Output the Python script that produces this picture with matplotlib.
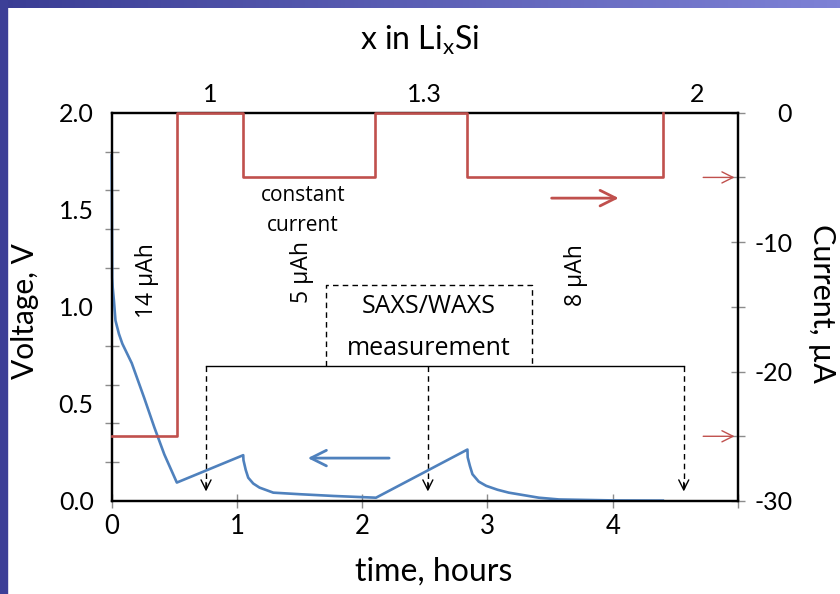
import numpy as np
import matplotlib.pyplot as plt
from matplotlib.ticker import MultipleLocator, FixedLocator, FormatStrFormatter
from matplotlib.colors import LinearSegmentedColormap
from matplotlib.patches import Rectangle

plt.rcParams['font.family'] = ['Lato', 'DejaVu Sans']

# voltage curve (left axis)
t_volt = [0, 0.004, 0.008, 0.018, 0.03, 0.058, 0.085, 0.16, 0.26, 0.34, 0.42, 0.52,
          1.05, 1.052, 1.07, 1.09, 1.13, 1.18, 1.29, 1.50, 1.77, 2.11,
          2.84, 2.842, 2.86, 2.88, 2.93, 2.99, 3.08, 3.17, 3.41, 3.57, 4.0, 4.40]
volt = [1.78, 1.15, 1.10, 1.03, 0.93, 0.86, 0.81, 0.71, 0.53, 0.38, 0.24, 0.095,
        0.236, 0.21, 0.16, 0.12, 0.09, 0.069, 0.043, 0.035, 0.026, 0.017,
        0.265, 0.225, 0.18, 0.138, 0.10, 0.078, 0.058, 0.043, 0.017, 0.008, 0.003, 0.002]

# current steps (right axis)
t_cur = [0, 0.525, 0.525, 1.045, 1.045, 2.10, 2.10, 2.835, 2.835, 4.405, 4.405]
cur = [-25, -25, 0, 0, -5, -5, 0, 0, -5, -5, 0]

# top axis: x in LixSi
x_top_t = [0.79, 2.50, 4.67]
x_top_labels = ['1', '1.3', '2']

# SAXS/WAXS measurement times
meas_t = [0.753, 2.524, 4.567]

blue = '#4F81BD'
red = '#C0504D'
tick_gray = '#8c8c8c'

W, H = 840, 594
fig = plt.figure(figsize=(W / 100, H / 100), dpi=100)

# slide border
left_px, right_px, top_px, bot_px = 111.7, 738, 112.7, 501
ax = fig.add_axes([left_px / W, 1 - bot_px / H, (right_px - left_px) / W, (bot_px - top_px) / H])
fig.patches.append(Rectangle((0, 0), 7 / W, 1, transform=fig.transFigure, color='#3c3f97', zorder=0))
bg = fig.add_axes([0, 1 - 8 / H, 1, 8 / H])
cm = LinearSegmentedColormap.from_list('slide', ['#3a3d94', '#7e82d6'])
bg.imshow(np.linspace(0, 1, 256)[None, :], aspect='auto', cmap=cm, extent=(0, 1, 0, 1))
bg.axis('off')

ax.plot(t_volt, volt, color=blue, lw=1.9, zorder=3, clip_on=False)
ax.set_xlim(0, 5)
ax.set_ylim(0, 2)

ax.xaxis.set_major_locator(FixedLocator([0, 1, 2, 3, 4, 5]))
ax.set_xticklabels(['0', '1', '2', '3', '4', ''])
ax.tick_params(axis='x', direction='inout', length=10, color=tick_gray, width=1,
               labelsize=18.5, pad=4)
ax.yaxis.set_major_locator(MultipleLocator(0.5))
ax.yaxis.set_minor_locator(MultipleLocator(0.2))
ax.yaxis.set_major_formatter(FormatStrFormatter('%.1f'))
ax.tick_params(axis='y', which='major', length=0, pad=13, labelsize=18)
ax.tick_params(axis='y', which='minor', direction='inout', length=10, color=tick_gray, width=1)

# annotations on voltage axis
ax.plot([meas_t[0], meas_t[-1]], [0.695, 0.695], color='k', lw=1)
ax.plot([1.711, 1.711, 3.355, 3.355], [0.695, 1.1125, 1.1125, 0.695],
        color='k', lw=1, dashes=(4, 3))
for t in meas_t:
    ax.plot([t, t], [0.695, 0.05], color='k', lw=1, dashes=(4, 3))
    ax.annotate('', xy=(t, 0.035), xytext=(t, 0.11),
                arrowprops=dict(arrowstyle='->', lw=1, color='k', mutation_scale=18))
ax.text(2.53, 1.0, 'SAXS/WAXS', ha='center', va='center', fontsize=18, family='Open Sans')
ax.text(2.53, 0.785, 'measurement', ha='center', va='center', fontsize=18, family='Open Sans')
ax.text(1.527, 1.576, 'constant', ha='center', va='center', fontsize=15, family='Open Sans')
ax.text(1.527, 1.42, 'current', ha='center', va='center', fontsize=15, family='Open Sans')
ax.text(0.28, 1.133, '14 µAh', rotation=90, ha='center', va='center', fontsize=16.5, family='Open Sans')
ax.text(1.52, 1.18, '5 µAh', rotation=90, ha='center', va='center', fontsize=16.5, family='Open Sans')
ax.text(3.71, 1.164, '8 µAh', rotation=90, ha='center', va='center', fontsize=16.5, family='Open Sans')

ax.annotate('', xy=(1.543, 0.221), xytext=(2.237, 0.221),
            arrowprops=dict(arrowstyle='->', color=blue, lw=2, mutation_scale=28))
ax.annotate('', xy=(4.07, 1.56), xytext=(3.49, 1.56),
            arrowprops=dict(arrowstyle='->', color=red, lw=2, mutation_scale=28))

# current axis
ax2 = ax.twinx()
ax2.plot(t_cur, cur, color=red, lw=1.9, zorder=3, clip_on=False)
ax2.set_ylim(-30, 0)
ax2.set_yticks([0, -10, -20, -30], labels=['0', '-10', '-20', '-30'])
ax2.yaxis.set_minor_locator(MultipleLocator(5))
ax2.tick_params(axis='y', which='both', direction='inout', length=10, color=tick_gray, width=1)
ax2.tick_params(axis='y', which='major', labelsize=18, pad=34)
for lab in ax2.get_yticklabels():
    lab.set_horizontalalignment('right')
for level in [-5, -25]:
    ax2.annotate('', xy=(4.995, level), xytext=(4.70, level), annotation_clip=False,
                 arrowprops=dict(arrowstyle='->', color=red, lw=1, mutation_scale=20))

for a in (ax, ax2):
    for s in a.spines.values():
        s.set_linewidth(1.6)
        s.set_color('k')

# top axis
top = ax.secondary_xaxis('top')
top.set_xticks(x_top_t, labels=x_top_labels)
top.tick_params(length=0, labelsize=18, pad=5)
top.spines['top'].set_visible(False)

fig.text(420 / W, 1 - 40 / H, 'x in Li$_\\mathregular{x}$Si', ha='center', va='center', fontsize=23)
fig.text(434 / W, 1 - 572 / H, 'time, hours', ha='center', va='center', fontsize=23)
fig.text(25 / W, 1 - 311 / H, 'Voltage, V', ha='center', va='center', rotation=90, fontsize=21.5)
fig.text(822 / W, 1 - 303 / H, 'Current, µA', ha='center', va='center', rotation=-90, fontsize=22)

fig.savefig('out.png', dpi=100)
